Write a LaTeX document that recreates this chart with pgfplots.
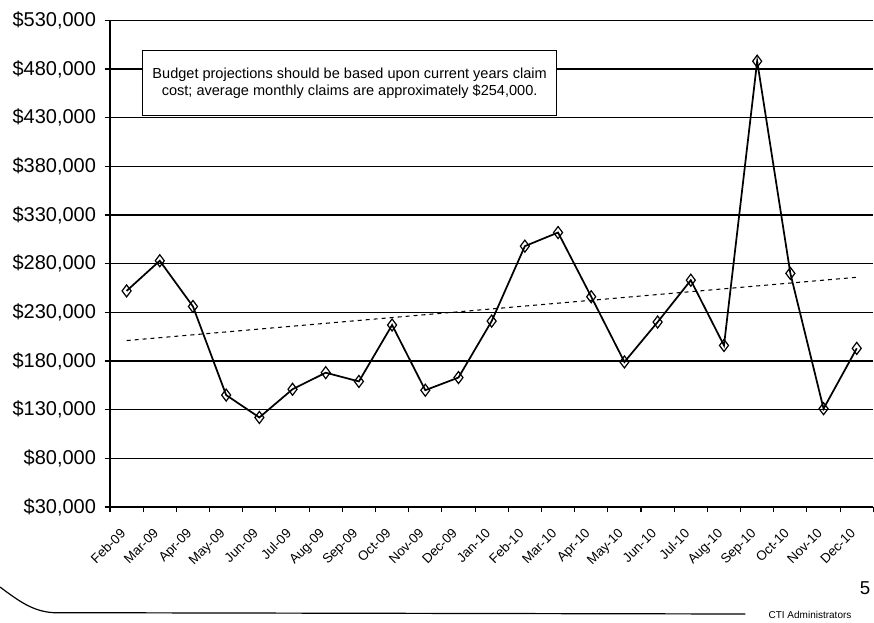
\documentclass[border=0pt]{standalone}
\usepackage{pgfplots}
\pgfplotsset{compat=1.18}
\usepackage{fontspec}
\setmainfont{Liberation Sans}
\begin{document}
\begin{tikzpicture}
\useasboundingbox (0,0) rectangle (655.5pt,466.5pt);
\begin{axis}[
  at={(82.5pt,86.25pt)}, anchor=south west,
  scale only axis, width=572.5pt, height=365pt,
  xmin=-0.5, xmax=22.5, ymin=30000, ymax=530000,
  scaled y ticks=false,
  axis x line=bottom, axis y line=left,
  axis line style={-, black, line width=1pt},
  xtick={-0.5,0.5,...,22.5},
  xticklabels={Feb-09,Mar-09,Apr-09,May-09,Jun-09,Jul-09,Aug-09,Sep-09,Oct-09,Nov-09,Dec-09,Jan-10,Feb-10,Mar-10,Apr-10,May-10,Jun-10,Jul-10,Aug-10,Sep-10,Oct-10,Nov-10,Dec-10,{}},
  xticklabel style={rotate=45, anchor=north east, font=\fontsize{10}{11}\selectfont, inner sep=1pt, xshift=-2pt, yshift=-12pt},
  ytick={30000,80000,...,530000},
  yticklabels={{\$30,000},{\$80,000},{\$130,000},{\$180,000},{\$230,000},{\$280,000},{\$330,000},{\$380,000},{\$430,000},{\$480,000},{\$530,000}},
  yticklabel style={font=\fontsize{15}{16}\selectfont, anchor=east, xshift=-3pt},
  major tick length=4pt,
  tick align=outside,
  tick style={black, line width=0.8pt},
  ymajorgrids, grid style={black, line width=0.9pt},
  clip=false,
]
\addplot[black, dashed, line width=0.8pt, forget plot] coordinates {(0,201000) (22,266000)};
\addplot[black, line width=1.3pt, mark=diamond, mark size=4.5pt, mark options={solid, fill=white, line width=0.9pt}] coordinates {
(0,252000) (1,283000) (2,236000) (3,145000) (4,122000) (5,151000) (6,168000) (7,159000)
(8,217000) (9,150000) (10,163000) (11,221000) (12,298000) (13,312000) (14,246000) (15,179000)
(16,220000) (17,263000) (18,196000) (19,488000) (20,270000) (21,131000) (22,193000)};
\draw[black, line width=1.1pt, fill=white] (axis cs:0.48,432000) rectangle (axis cs:12.96,499000);
\node[align=center, font=\fontsize{10.9}{12.8}\selectfont] at (axis cs:6.72,465500) {Budget projections should be based upon current years claim\\cost; average monthly claims are approximately \$254,000.};
\end{axis}
\draw[black, line width=0.9pt] (0,26.25pt) .. controls (15pt,15pt) and (25pt,8pt) .. (40pt,7pt) -- (559pt,6pt);
\node[font=\fontsize{14}{15}\selectfont] at (648.75pt,25.5pt) {5};
\node[font=\fontsize{7.5}{8}\selectfont] at (607.5pt,5pt) {CTI Administrators};
\end{tikzpicture}
\end{document}
